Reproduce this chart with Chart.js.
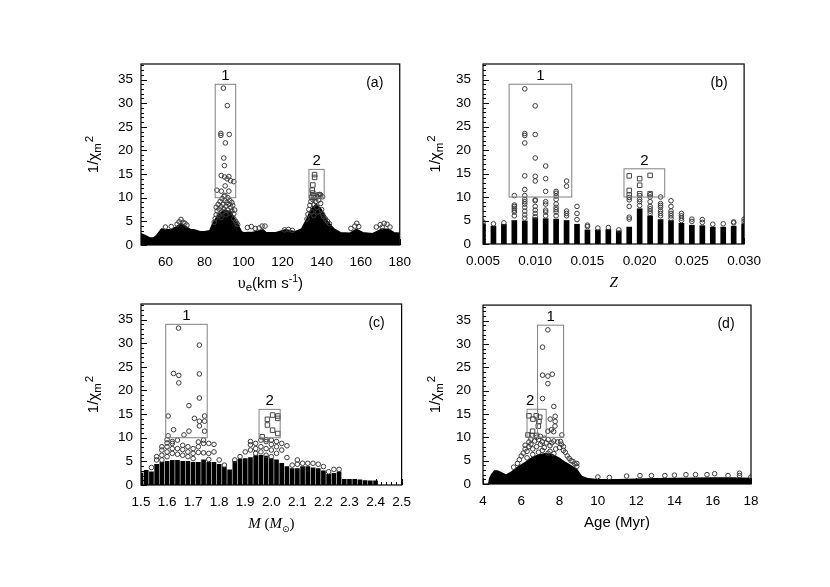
<!DOCTYPE html>
<html><head><meta charset="utf-8">
<script src="https://cdn.jsdelivr.net/npm/chart.js@4.4.1/dist/chart.umd.min.js"></script>
<style>
html,body{margin:0;padding:0;background:#fff;}
body{width:830px;height:587px;position:relative;overflow:hidden;}
canvas{position:absolute;}
</style></head><body>
<canvas id="ca" style="left:40px;top:20px;width:380px;height:280px"></canvas>
<canvas id="cb" style="left:415px;top:20px;width:355px;height:280px"></canvas>
<canvas id="cc" style="left:40px;top:285px;width:380px;height:275px"></canvas>
<canvas id="cd" style="left:415px;top:285px;width:355px;height:275px"></canvas>
<script>
// ---------- shared ----------
const yTicks = [0,5,10,15,20,25,30,35];

// ---------- panel (a): v_e ----------
const aTicks = [60,80,100,120,140,160,180];
const aMassX = [47.5,50,52,54,55.5,58,60,63,65,68,70,72.7,75,77.7,80,82.7,84.3,86.8,90,93.4,96.7,99,100,105,110,111.6,116.5,121.5,126.4,129.8,132.2,134.7,137.2,139.7,143,146.3,149.6,154.5,157.8,161.1,166.1,171,174.4,177,180];
const aMassY = [2.4,1.9,1.5,1.5,2.0,3.4,3.3,3.2,3.7,4.5,4.0,3.3,3.2,2.8,2.8,3.0,4.6,6.2,7.4,7.0,4.6,2.8,2.6,2.7,3.2,2.6,2.6,3.2,2.8,3.4,5.3,7.6,8.6,7.6,5.0,3.4,2.6,2.5,3.3,2.6,2.4,3.4,3.3,2.6,2.5];
const aCircles = [[60,3.8],[63,3.9],[66,4.4],[67,4.9],[68,5.4],[69,4.8],[70,4.6],[71,4.2],
 [85,4.8],[85.5,5.6],[86,6.4],[86.5,7.2],[86,8.0],[87,8.6],[87.5,7.6],[87.5,6.2],[88,9.2],[88.5,8.1],[88.5,5.8],[89,9.8],[89,7.0],[89.5,8.6],[90,10.3],[90,7.6],[90.5,9.4],[91,8.2],[91,6.4],[91.5,9.0],[92,10.0],[92,7.4],[92.5,8.6],[93,9.4],[93,6.8],[93.5,8.0],[94,9.0],[94,7.2],[94.5,8.4],[95,6.6],[95,5.6],[95.5,7.4],[96,5.0],[96.5,4.6],[97,4.3],
 [102,3.7],[104,3.9],[106,3.5],[108,3.6],[109.5,4.0],[111,4.0],[121,3.2],[123,3.3],[125,3.1],
 [132.5,5.5],[133,6.5],[133.5,7.5],[134,8.4],[134.5,9.2],[135,7.0],[135.5,9.6],[136,8.5],[136.5,10.0],[137,9.2],[137.5,8.0],[138,10.2],[138.5,9.5],[139,10.7],[139.5,8.8],[140,7.5],[140.5,6.5],[141,6.0],[142,5.5],[143,5.0],[144,4.5],[139.5,10.6],[140.5,10.2],[136,6.2],[138,7.0],
 [155,3.5],[157,4.0],[158,4.6],[159,3.9],[168,3.8],[170,4.3],[171,3.8],[172,4.6],[173.5,4.4],[175,3.8],
 [89.7,33.2],[91.7,29.5],[88.4,23.6],[88.4,23.2],[92.7,23.4],[90.7,21.6],[89.9,18.4],[90.2,16.8],[88.6,14.7],[90.3,14.4],[92.5,14.5],[91.6,14.0],[93.4,13.6],[95,13.4],[90.6,12.5],[86.4,11.6],[88.6,11.4],[92.5,11.4],[90.5,10.5]];
const aSquares = [[135.5,12.7],[136.4,14.9],[136.4,14.3],[135.2,11.6],[135.5,11.0],[135.8,10.4],[138.4,10.6],[134.9,10.1]];
const aBoxes = [[85.5,96,10,34,'1'],[133.5,141.3,10,16,'2']];

// ---------- panel (b): Z ----------
const bTicks = [0.005,0.010,0.015,0.020,0.025,0.030];
const bZ = [0.005,0.006,0.007,0.008,0.009,0.010,0.011,0.012,0.013,0.014,0.015,0.016,0.017,0.018,0.019,0.020,0.021,0.022,0.023,0.024,0.025,0.026,0.027,0.028,0.029,0.030];
const bMass = [4.3,3.8,4.2,5.0,4.9,5.6,5.4,5.3,5.0,4.2,3.0,3.0,3.1,2.8,3.6,7.5,6.0,5.2,5.0,4.4,4.0,3.9,3.6,3.6,3.8,4.3];
const bCircles = [[0.005,4.7],[0.006,4.3],[0.007,4.5],
 [0.008,6.0],[0.008,6.8],[0.008,7.2],[0.008,7.6],[0.008,8.0],[0.008,8.3],[0.008,10.3],
 [0.009,5.5],[0.009,6.2],[0.009,7.0],[0.009,7.8],[0.009,8.5],[0.009,9.0],[0.009,9.5],[0.009,10.3],[0.009,11.6],[0.009,14.5],[0.009,21.5],[0.009,23.1],[0.009,23.5],[0.009,33.0],
 [0.010,5.8],[0.010,6.5],[0.010,7.2],[0.010,8.0],[0.010,9.2],[0.010,9.4],[0.010,13.4],[0.010,14.4],[0.010,18.3],[0.010,23.3],[0.010,29.4],
 [0.011,6.0],[0.011,6.8],[0.011,7.2],[0.011,8.5],[0.011,9.0],[0.011,11.2],[0.011,13.9],[0.011,16.6],
 [0.012,6.0],[0.012,6.8],[0.012,7.3],[0.012,7.8],[0.012,8.5],[0.012,9.5],[0.012,10.2],[0.012,10.8],[0.012,11.2],
 [0.013,6.0],[0.013,6.5],[0.013,7.0],[0.013,12.3],[0.013,13.4],
 [0.014,5.2],[0.014,6.5],[0.014,8.0],[0.015,3.7],[0.015,4.0],[0.016,3.4],[0.017,3.5],[0.018,3.0],
 [0.019,5.3],[0.019,5.7],[0.019,8.0],[0.019,9.4],[0.019,9.9],
 [0.020,8.2],[0.020,9.0],[0.020,9.5],[0.020,10.3],
 [0.021,6.5],[0.021,7.0],[0.021,7.5],[0.021,8.0],[0.021,9.0],[0.021,10.0],[0.021,10.5],
 [0.022,6.0],[0.022,6.5],[0.022,7.0],[0.022,7.8],[0.022,8.2],[0.022,8.6],[0.022,10.0],
 [0.023,5.5],[0.023,6.0],[0.023,6.5],[0.023,7.0],[0.023,8.0],[0.023,9.2],
 [0.024,5.0],[0.024,5.5],[0.024,6.0],[0.024,6.5],[0.025,4.8],[0.025,5.3],[0.026,4.6],[0.026,5.2],
 [0.027,4.2],[0.028,4.3],[0.029,4.5],[0.029,4.7],[0.030,4.8],[0.030,5.3]];
const bSquares = [[0.019,14.5],[0.019,10.4],[0.019,11.4],[0.020,13.9],[0.020,12.5],[0.020,10.7],[0.021,14.6],[0.021,10.7]];
const bBoxes = [[0.0075,0.0135,10,34,'1'],[0.0185,0.0224,10,16,'2']];

// ---------- panel (c): M ----------
const cTicks = [1.5,1.6,1.7,1.8,1.9,2.0,2.1,2.2,2.3,2.4,2.5];
const cM = [1.50,1.52,1.54,1.56,1.58,1.60,1.62,1.64,1.66,1.68,1.70,1.72,1.74,1.76,1.78,1.80,1.82,1.84,1.86,1.88,1.90,1.92,1.94,1.96,1.98,2.00,2.02,2.04,2.06,2.08,2.10,2.12,2.14,2.16,2.18,2.20,2.22,2.24,2.26,2.28,2.30,2.32,2.34,2.36,2.38,2.40];
const cMass = [2.5,3.1,2.8,4.4,4.8,5.0,5.2,5.2,5.0,5.0,4.8,4.8,5.3,4.8,4.8,4.4,3.8,3.2,5.0,5.5,5.6,5.8,6.2,6.3,6.1,5.6,5.3,4.6,3.9,3.5,3.5,3.9,3.9,3.65,3.5,3.0,2.25,2.45,2.8,1.2,1.2,1.2,1.1,0.95,0.9,0.9];
const cCircles = [[1.54,3.7],[1.56,5.3],[1.56,6.0],[1.58,5.3],[1.58,6.3],[1.58,7.4],[1.58,8.1],[1.60,6.0],[1.60,7.0],[1.60,8.1],[1.60,8.9],[1.60,9.6],[1.62,6.7],[1.62,7.7],[1.62,8.8],[1.62,9.2],[1.64,6.5],[1.64,7.7],[1.64,9.5],[1.66,6.3],[1.66,7.5],[1.66,8.4],[1.68,6.0],[1.68,7.0],[1.68,8.1],[1.70,5.6],[1.70,6.7],[1.70,7.7],[1.72,6.9],[1.72,8.1],[1.72,9.1],[1.74,6.8],[1.74,8.8],[1.74,9.5],[1.76,5.4],[1.76,6.7],[1.76,8.8],[1.78,7.0],[1.78,8.6],[1.80,5.3],[1.82,4.2],[1.86,5.3],[1.88,6.0],[1.90,7.0],[1.92,7.4],[1.92,8.5],[1.92,9.2],[1.94,6.7],[1.94,7.7],[1.94,8.8],[1.96,7.0],[1.96,8.1],[1.96,9.5],[1.98,6.3],[1.98,7.7],[1.98,9.2],[1.98,9.6],[2.00,6.0],[2.00,7.4],[2.00,8.6],[2.00,9.5],[2.02,6.7],[2.02,8.1],[2.02,9.2],[2.04,7.4],[2.04,8.8],[2.06,5.8],[2.06,8.3],[2.08,4.2],[2.10,4.4],[2.10,5.3],[2.12,4.6],[2.14,4.6],[2.16,4.6],[2.18,4.4],[2.20,3.9],[2.22,2.8],[2.24,3.3],[2.26,3.3],
 [1.644,33.2],[1.724,29.6],[1.625,23.6],[1.645,23.2],[1.724,23.5],[1.645,21.6],[1.724,18.4],[1.684,16.8],[1.604,14.6],[1.744,14.6],[1.705,14.1],[1.744,13.5],[1.724,13.5],[1.724,12.5],[1.625,11.7],[1.684,11.4],[1.744,11.4],[1.604,10.4],[1.665,10.6]];
const cSquares = [[1.985,13.9],[2.005,14.8],[2.025,14.6],[2.025,14.1],[1.985,12.7],[2.005,11.6],[2.025,10.9],[1.965,10.2]];
const cBoxes = [[1.595,1.754,10,34,'1'],[1.953,2.034,10,16,'2']];

// ---------- panel (d): Age ----------
const dTicks = [4,6,8,10,12,14,16,18];
const dMassX = [4.3,4.35,4.45,4.6,4.75,5.0,5.2,5.5,5.85,6.2,6.55,6.9,7.25,7.6,7.95,8.3,8.6,8.9,9.15,9.5,10,11,12,13,14,15,16,17,18];
const dMassY = [0,1.2,2.0,2.8,2.8,2.3,1.9,2.6,3.7,4.6,5.6,6.2,6.5,6.3,5.6,4.6,3.9,3.1,1.6,1.1,0.9,0.9,1.0,1.1,1.2,1.25,1.3,1.3,1.2];
const dCircles = [[5.6,3.6],[5.8,4.4],[5.9,5.2],[6.0,6.0],[6.1,6.6],[6.2,7.5],[6.2,8.3],[6.3,7.0],[6.3,5.6],[6.4,8.0],[6.4,9.0],[6.5,8.5],[6.5,9.6],[6.6,7.5],[6.6,6.3],[6.7,9.2],[6.8,8.0],[6.8,10.0],[6.9,9.5],[6.9,6.8],[7.0,8.5],[7.0,10.2],[7.1,9.0],[7.1,7.2],[7.2,9.8],[7.2,7.8],[7.3,8.8],[7.4,9.5],[7.4,6.6],[7.5,8.2],[7.5,7.0],[7.6,8.8],[7.7,9.2],[7.7,6.5],[7.8,7.5],[7.9,9.0],[8.0,7.8],[8.05,9.1],[8.1,8.5],[8.2,7.2],[8.2,8.0],[8.3,6.8],[8.4,6.0],[8.5,5.5],[8.6,5.0],[8.7,4.8],[8.8,4.3],[8.9,3.8],[8.9,4.4],
 [10.0,1.5],[10.6,1.4],[11.5,1.7],[12.2,1.8],[12.8,1.8],[13.5,1.8],[14.0,1.9],[14.6,2.0],[15.1,2.0],[15.7,2.0],[16.1,2.2],[16.8,1.8],[17.4,2.3],[17.4,1.8],[18.0,1.5],
 [7.39,33.0],[7.11,29.3],[7.11,23.3],[7.39,23.1],[7.62,23.5],[7.39,21.5],[7.11,18.3],[7.70,16.6],[7.77,14.5],[7.51,13.9],[7.77,13.4],[7.76,12.4],[7.57,11.6],[7.39,11.3],[7.69,11.2],[8.12,10.5]];
const dSquares = [[6.40,14.6],[6.78,14.6],[6.96,14.3],[6.61,13.9],[6.92,13.4],[6.89,12.4],[6.59,11.3],[6.35,10.5],[6.54,10.4],[6.80,10.4]];
const dBoxes = [[6.85,8.21,10,34,'1'],[6.30,7.30,10,16,'2',6.47]];

// ---------- rendering ----------
const F = '"Liberation Sans", Arial, Helvetica, sans-serif';
const FS = '"Liberation Serif", "Times New Roman", serif';
Chart.defaults.font.family = F;
Chart.defaults.font.size = 13.5;
Chart.defaults.color = '#000';

const yTitle = [{t:'1/χ', f:'15px '+F},{t:'m', f:'11.5px '+F, dy:3},{t:'2', f:'11.5px '+F, dy:-5, gap:1}];
const titles = {
  a: [{t:'υ', f:'16px '+FS},{t:'e', f:'11.5px '+F, dy:3},{t:'(km s', f:'15px '+F},{t:'-1', f:'10.5px '+F, dy:-6},{t:')', f:'15px '+F}],
  b: [{t:'Z', f:'italic 15px '+FS}],
  c: [{t:'M', f:'italic 15px '+FS},{t:' (', f:'15px '+FS},{t:'M', f:'italic 15px '+FS},{t:'⊙', f:'9px "DejaVu Sans"', dy:4},{t:')', f:'15px '+FS}],
  d: [{t:'Age (Myr)', f:'15px '+F}]
};

function pairs(a){ return a.map(p => ({x:p[0], y:p[1]})); }
function pts(xs, ys){ return xs.map((x,i) => ({x, y:ys[i]})); }

function drawRich(ctx, segs, cx, cy, rot){
  ctx.save();
  ctx.translate(cx, cy);
  if (rot) ctx.rotate(-Math.PI/2);
  let w = 0;
  segs.forEach(s => { ctx.font = s.f; w += ctx.measureText(s.t).width + (s.gap||0); });
  let x = -w/2;
  ctx.textAlign = 'left'; ctx.textBaseline = 'alphabetic'; ctx.fillStyle = '#000';
  segs.forEach(s => { x += (s.gap||0); ctx.font = s.f; ctx.fillText(s.t, x, s.dy||0); x += ctx.measureText(s.t).width; });
  ctx.restore();
}

function deco(c){
  return { id:'deco_'+c.id, afterDraw(chart){
    const {ctx, chartArea:a} = chart; const xs = chart.scales.x, ys = chart.scales.y;
    ctx.save();
    ctx.strokeStyle = '#000'; ctx.lineWidth = 1;
    ctx.beginPath();
    for (let v = 0; v <= 38; v++) {
      const py = Math.round(ys.getPixelForValue(v)) + 0.5, L = v % 5 === 0 ? 6 : 3;
      ctx.moveTo(a.left, py); ctx.lineTo(a.left + L, py);
    }
    const n0 = Math.ceil(c.xMin / c.minor - 1e-6), n1 = Math.floor(c.xMax / c.minor + 1e-6);
    for (let i = n0; i <= n1; i++) {
      const v = i * c.minor, px = Math.round(xs.getPixelForValue(v)) + 0.5;
      const major = c.xTicks.some(t => Math.abs(t - v) < c.minor * 0.01);
      ctx.moveTo(px, a.bottom); ctx.lineTo(px, a.bottom - (major ? 6 : 3));
    }
    ctx.stroke();
    ctx.lineWidth = 1.2;
    ctx.strokeRect(a.left, a.top, a.right - a.left, a.bottom - a.top);
    ctx.strokeStyle = '#808080'; ctx.lineWidth = 1;
    ctx.fillStyle = '#000'; ctx.textAlign = 'center'; ctx.textBaseline = 'alphabetic';
    c.boxes.forEach(b => {
      const x0 = xs.getPixelForValue(b[0]), x1 = xs.getPixelForValue(b[1]);
      const y0 = ys.getPixelForValue(b[2]), y1 = ys.getPixelForValue(b[3]);
      ctx.strokeRect(x0, y1, x1 - x0, y0 - y1);
      ctx.font = '15px ' + F;
      const lx = b.length > 5 ? xs.getPixelForValue(b[5]) : (x0 + x1) / 2;
      ctx.fillText(b[4], lx, y1 - 4);
    });
    ctx.font = '14px ' + F;
    ctx.fillText(c.tag, a.right - 25, a.top + 23);
    drawRich(ctx, c.title, (a.left + a.right) / 2, a.bottom + 43, false);
    drawRich(ctx, yTitle, a.left - 43, (a.top + a.bottom) / 2, true);
    ctx.restore();
  }};
}

function makePanel(c){
  const ds = [
    {type:'scatter', data:pairs(c.sq), pointStyle:'rect', radius:3.2, borderWidth:1, borderColor:'#444', backgroundColor:'rgba(255,255,255,0)', order:0},
    {type:'scatter', data:pairs(c.circ), pointStyle:'circle', radius:2.3, borderWidth:1, borderColor:'#3a3a3a', backgroundColor:'rgba(255,255,255,0)', order:1}
  ];
  if (c.barW) ds.push({type:'bar', data:pts(c.massX, c.massY), backgroundColor:'#000', borderWidth:0, barThickness:c.barW, order:3});
  else ds.push({type:'line', data:pts(c.massX, c.massY), fill:'origin', backgroundColor:'#000', borderColor:'#000', borderWidth:1.5, pointRadius:0, tension:0, order:3});
  new Chart(document.getElementById(c.id), {
    type:'scatter',
    data:{datasets:ds},
    options:{
      responsive:false, animation:false, events:[],
      layout:{padding:{left:0, top:c.padTop, right:c.padRight, bottom:0}},
      plugins:{legend:{display:false}, tooltip:{enabled:false}},
      scales:{
        x:{type:'linear', min:c.xMin, max:c.xMax, offset:false,
           grid:{display:false, drawTicks:false, offset:false}, border:{display:false},
           ticks:{padding:9, maxRotation:0, autoSkip:false, color:'#000', callback:c.fmt},
           afterBuildTicks:s => { s.ticks = c.xTicks.map(v => ({value:v})); },
           afterFit:s => { s.height = c.H; }},
        y:{type:'linear', min:0, max:38.3,
           grid:{display:false, drawTicks:false}, border:{display:false},
           ticks:{padding:c.yPad, color:'#000', callback:v => String(v)},
           afterBuildTicks:s => { s.ticks = yTicks.map(v => ({value:v})); },
           afterFit:s => { s.width = c.W; }}
      }
    },
    plugins:[deco(c)]
  });
}

makePanel({id:'ca', tag:'(a)', title:titles.a, xMin:47.5, xMax:180, xTicks:aTicks, minor:2, fmt:v => String(v),
  massX:aMassX, massY:aMassY, circ:aCircles, sq:aSquares, boxes:aBoxes, W:101, H:55, padTop:44, padRight:12, yPad:8});
makePanel({id:'cb', tag:'(b)', title:titles.b, xMin:0.005, xMax:0.030, xTicks:bTicks, minor:0.001, fmt:v => v.toFixed(3),
  massX:bZ, massY:bMass, barW:5, circ:bCircles, sq:bSquares, boxes:bBoxes, W:68, H:56, padTop:44, padRight:19, yPad:12});
makePanel({id:'cc', tag:'(c)', title:titles.c, xMin:1.5, xMax:2.5, xTicks:cTicks, minor:0.02, fmt:v => v.toFixed(1),
  massX:cM, massY:cMass, barW:4, circ:cCircles, sq:cSquares, boxes:cBoxes, W:101, H:75, padTop:19, padRight:13, yPad:8});
makePanel({id:'cd', tag:'(d)', title:titles.d, xMin:4, xMax:18, xTicks:dTicks, minor:0.5, fmt:v => String(v),
  massX:dMassX, massY:dMassY, circ:dCircles, sq:dSquares, boxes:dBoxes, W:68, H:76, padTop:19, padRight:19, yPad:12});
</script>
</body></html>
